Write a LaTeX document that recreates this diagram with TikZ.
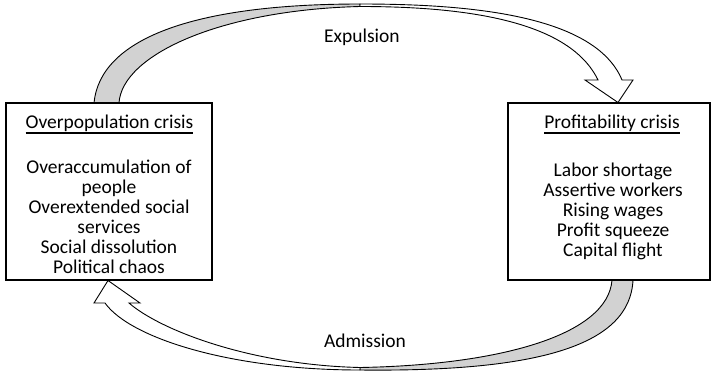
\documentclass[tikz,border=0pt]{standalone}
\usepackage{fontspec}
\setmainfont{Carlito}
\usepackage{tikz}

\newcommand{\crisistitle}[1]{\setbox0\hbox{#1}\rlap{\rule[-5.5pt]{\wd0}{1.3pt}}\box0}

\begin{document}
\begin{tikzpicture}[x=1pt,y=-1pt,font=\fontsize{19.5}{20}\selectfont,
	crisisbox/.style={draw,line width=1.1pt,minimum width=206pt,minimum height=177pt,inner sep=0pt},
	itemlist/.style={align=center,inner sep=0pt,anchor=north},
	loopband/.style={draw,line width=0.9pt,line join=miter},
	backband/.style={loopband,fill=gray!35},
	frontband/.style={loopband,fill=white}]
	\useasboundingbox (0,0) rectangle (711,388);
	% expulsion loop, over the top
	\draw[backband] (94,103) .. controls (100,40) and (190,4) .. (360,4) -- (360,6.5)
		.. controls (220,10) and (122,55) .. (119,103) -- cycle;
	\draw[frontband] (360,4) .. controls (470,4) and (595,15) .. (622,80) -- (633,80)
		-- (618,102.5) -- (585,80) -- (598,80)
		.. controls (570,22) and (470,6.5) .. (360,6.5) -- cycle;
	% admission loop, under the bottom
	\draw[backband] (633,280) .. controls (630,345) and (540,372) .. (360,370) -- (360,367.5)
		.. controls (500,365) and (608,335) .. (612,280) -- cycle;
	\draw[frontband] (360,370) .. controls (230,370) and (130,338) .. (105,303) -- (94,303)
		-- (108,280.5) -- (140,303) -- (129,303)
		.. controls (160,330) and (250,365) .. (360,367.5) -- cycle;
	% the two crises
	\node[crisisbox] (overpop) at (109,191.5) {};
	\node[crisisbox,minimum width=202pt] (profit) at (609,191.5) {};
	\node[anchor=base,inner sep=0pt] (overpoptitle) at (109.5,128) {\crisistitle{Overpopulation crisis}};
	\node[anchor=base,inner sep=0pt] (profittitle) at (612,128) {\crisistitle{Profitability crisis}};
	\node[itemlist] (overpopitems) at (109,159.5) {Overaccumulation of\\people\\Overextended social\\services\\Social dissolution\\Political chaos};
	\node[itemlist] (profititems) at (613,162.5) {Labor shortage\\Assertive workers\\Rising wages\\Profit squeeze\\Capital flight};
	% loop labels
	\node[anchor=base,inner sep=0pt] (expulsion) at (362,42) {Expulsion};
	\node[anchor=base,inner sep=0pt] (admission) at (365,347) {Admission};
\end{tikzpicture}
\end{document}
